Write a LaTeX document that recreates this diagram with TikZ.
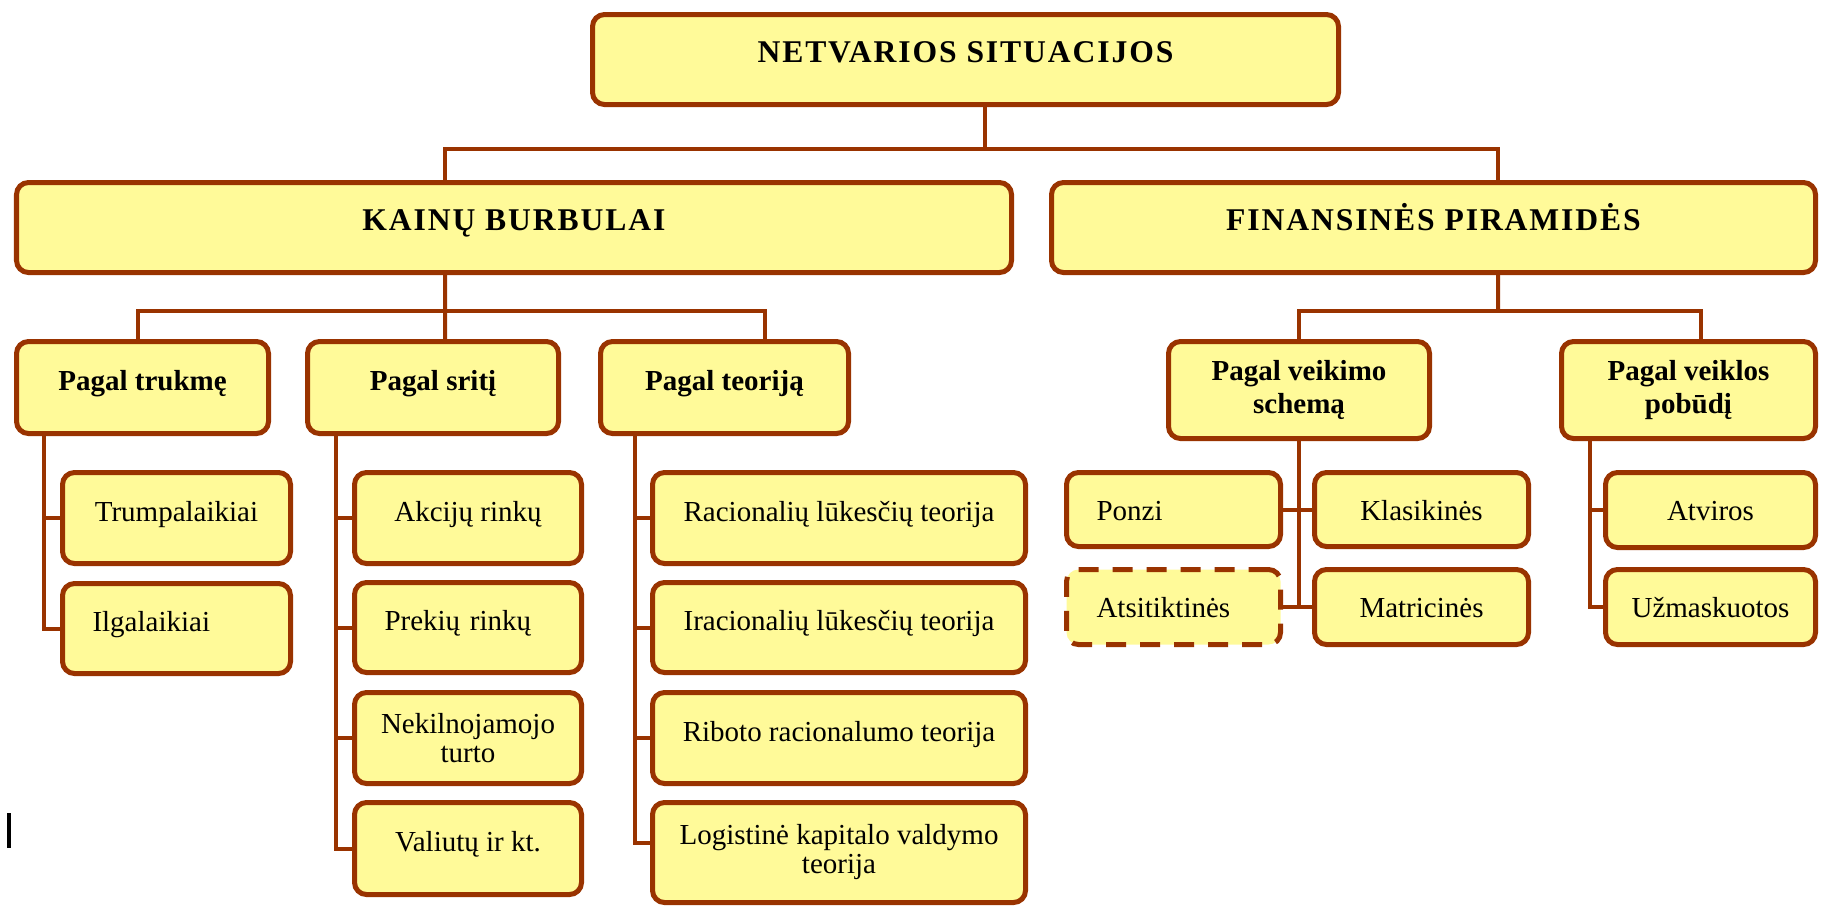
\documentclass[tikz,border=0pt]{standalone}
\usepackage{fontspec}
\setmainfont{Liberation Serif}
\newfontfamily\capsfont[LetterSpace=6]{Liberation Serif}
\definecolor{boxfill}{RGB}{255,250,153}
\definecolor{boxline}{RGB}{153,51,0}

\begin{document}
\begin{tikzpicture}[
    box/.style={draw=boxline,line width=0.1cm,fill=boxfill,rounded corners=0.24cm,
      inner sep=0pt,font=\fontsize{16.5}{16.5}\selectfont},
    upper/.style={text height=0.42cm,text depth=0.30cm},
    mid/.style={text height=0.42cm,text depth=0cm},
    head/.style={box,upper,font=\capsfont\bfseries\fontsize{18}{20}\selectfont},
    group/.style={box,font=\bfseries\fontsize{16.5}{18.5}\selectfont},
    lleaf/.style={box,align=left,inner xsep=0.6cm,text width=#1},
    link/.style={draw=boxline,line width=0.08cm}]
  \useasboundingbox (0,0) rectangle (36.42,-18.12);
  \clip (0,0) rectangle (36.42,-18.12);

  \node[head,minimum width=14.92cm,minimum height=1.80cm] (top) at (19.31,-1.19)
    {NETVARIOS SITUACIJOS};
  \node[head,minimum width=19.90cm,minimum height=1.80cm] (kb) at (10.28,-4.55)
    {KAINŲ BURBULAI};
  \node[head,minimum width=15.28cm,minimum height=1.80cm] (fp) at (28.67,-4.55)
    {FINANSINĖS PIRAMIDĖS};

  \node[group,upper,minimum width=5.04cm,minimum height=1.84cm] (trukme) at (2.85,-7.75)
    {Pagal trukmę};
  \node[group,upper,minimum width=5.02cm,minimum height=1.84cm] (sriti) at (8.66,-7.75)
    {Pagal sritį};
  \node[group,upper,minimum width=4.96cm,minimum height=1.84cm] (teorija) at (14.49,-7.75)
    {Pagal teoriją};
  \node[group,align=center,minimum width=5.22cm,minimum height=1.94cm] (veikimo) at (25.98,-7.80)
    {Pagal veikimo\\schemą};
  \node[group,align=center,minimum width=5.08cm,minimum height=1.94cm] (veiklos) at (33.77,-7.80)
    {Pagal veiklos\\pobūdį};

  \node[box,upper,minimum width=4.56cm,minimum height=1.82cm] (trump) at (3.53,-10.36)
    {Trumpalaikiai};
  \node[lleaf=3.36cm,upper,minimum height=1.80cm] (ilgal) at (3.53,-12.57)
    {Ilgalaikiai};

  \node[box,upper,minimum width=4.54cm,minimum height=1.82cm] (akc) at (9.36,-10.36)
    {Akcijų rinkų};
  \node[lleaf=3.34cm,upper,minimum height=1.80cm] (prek) at (9.36,-12.55)
    {Prekių rinkų};
  \node[box,align=center,minimum width=4.54cm,minimum height=1.82cm] (nekiln) at (9.36,-14.76)
    {Nekilnojamojo\\turto};
  \node[box,upper,minimum width=4.54cm,minimum height=1.84cm] (valiut) at (9.36,-16.97)
    {Valiutų ir kt.};

  \node[box,upper,minimum width=7.46cm,minimum height=1.82cm] (racion) at (16.78,-10.36)
    {Racionalių lūkesčių teorija};
  \node[box,upper,minimum width=7.46cm,minimum height=1.80cm] (iracion) at (16.78,-12.55)
    {Iracionalių lūkesčių teorija};
  \node[box,upper,minimum width=7.46cm,minimum height=1.82cm] (ribot) at (16.78,-14.76)
    {Riboto racionalumo teorija};
  \node[box,align=center,minimum width=7.46cm,minimum height=2.00cm] (logist) at (16.78,-17.05)
    {Logistinė kapitalo valdymo\\teorija};

  \node[lleaf=3.08cm,mid,minimum height=1.48cm] (ponzi) at (23.47,-10.19) {Ponzi};
  \node[box,mid,minimum width=4.28cm,minimum height=1.48cm] (klasik) at (28.43,-10.19)
    {Klasikinės};
  \node[lleaf=3.08cm,mid,minimum height=1.50cm,dash pattern=on 0.4cm off 0.28cm] (atsit)
    at (23.47,-12.14) {Atsitiktinės};
  \node[box,mid,minimum width=4.28cm,minimum height=1.50cm] (matric) at (28.43,-12.14)
    {Matricinės};

  \node[box,mid,minimum width=4.20cm,minimum height=1.50cm] (atvir) at (34.21,-10.20)
    {Atviros};
  \node[box,mid,minimum width=4.20cm,minimum height=1.50cm] (uzmask) at (34.21,-12.14)
    {Užmaskuotos};

  \coordinate (bus0) at (19.70,-2.98);
  \coordinate (bus1) at (8.90,-6.22);
  \coordinate (bus2) at (29.96,-6.22);

  \draw[link] (top.south -| bus0) -- (bus0);
  \draw[link] ([xshift=-1.38cm]kb.north) |- (bus0) -| ([xshift=1.29cm]fp.north);

  \draw[link] ([xshift=-1.38cm]kb.south) -- ([xshift=0.24cm]sriti.north);
  \draw[link] ([xshift=-0.09cm]trukme.north) |- (bus1) -| ([xshift=0.81cm]teorija.north);

  \draw[link] ([xshift=1.29cm]fp.south) -- (bus2);
  \draw[link] (veikimo.north) |- (bus2) -| ([xshift=0.25cm]veiklos.north);

  \draw[link] ([xshift=-1.97cm]trukme.south) |- (trump.west);
  \draw[link] ([xshift=-1.97cm]trukme.south) |- (ilgal.west);

  \draw[link] ([xshift=-1.94cm]sriti.south) |- (akc.west);
  \draw[link] ([xshift=-1.94cm]sriti.south) |- (prek.west);
  \draw[link] ([xshift=-1.94cm]sriti.south) |- (nekiln.west);
  \draw[link] ([xshift=-1.94cm]sriti.south) |- (valiut.west);

  \draw[link] ([xshift=-1.79cm]teorija.south) |- (racion.west);
  \draw[link] ([xshift=-1.79cm]teorija.south) |- (iracion.west);
  \draw[link] ([xshift=-1.79cm]teorija.south) |- (ribot.west);
  \draw[link] ([xshift=-1.79cm]teorija.south) |- ([yshift=0.2cm]logist.west);

  \draw[link] (veikimo.south) |- (ponzi.east);
  \draw[link] (veikimo.south) |- (klasik.west);
  \draw[link] (veikimo.south) |- (atsit.east);
  \draw[link] (veikimo.south) |- (matric.west);

  \draw[link] ([xshift=-1.97cm]veiklos.south) |- (atvir.west);
  \draw[link] ([xshift=-1.97cm]veiklos.south) |- (uzmask.west);

  \draw[line width=0.07cm] (0.18,-16.26) -- (0.18,-16.96);
\end{tikzpicture}
\end{document}
